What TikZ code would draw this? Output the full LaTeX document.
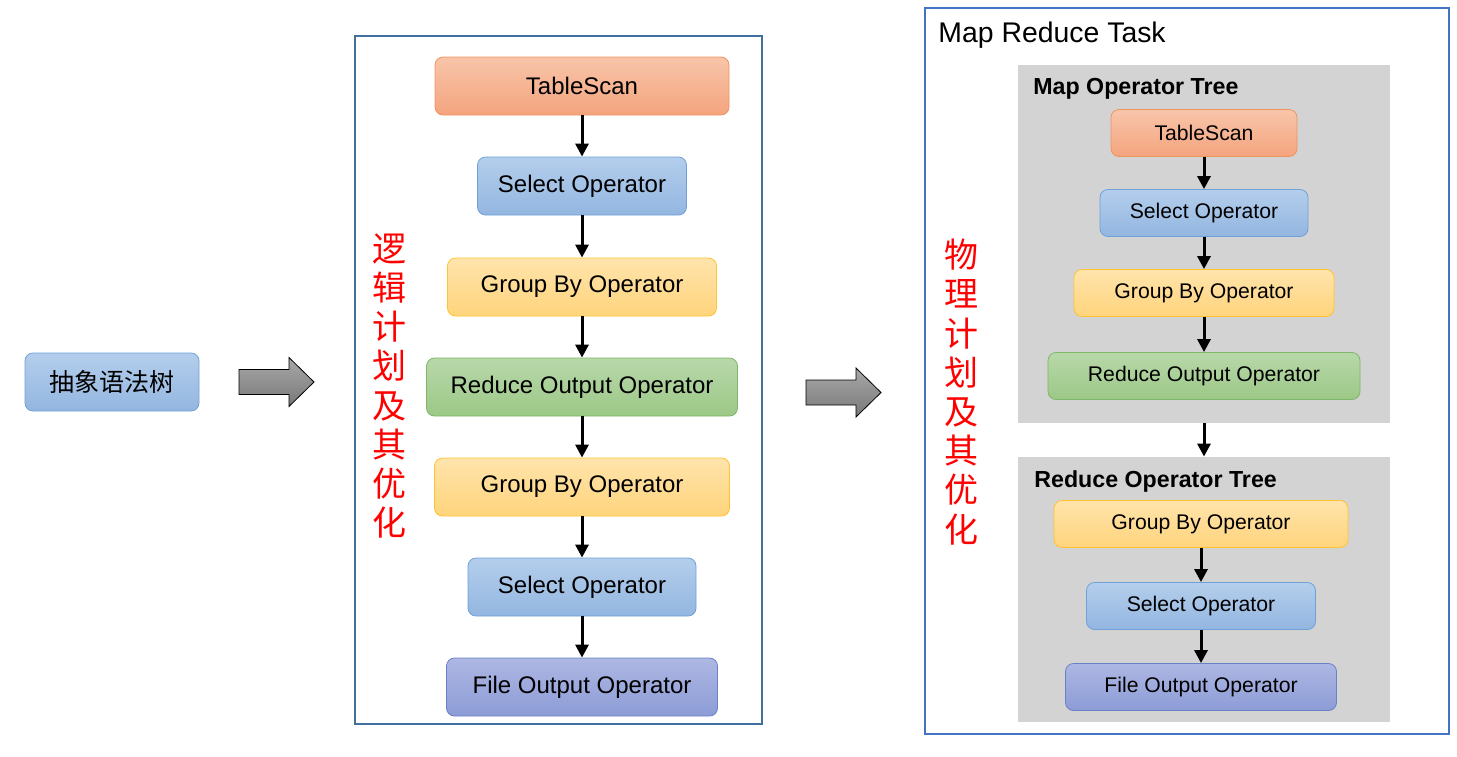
\documentclass[tikz,border=0pt]{standalone}
\usepackage{fontspec}
\setmainfont{Liberation Sans}
\newfontfamily\cjk{Noto Sans CJK SC}
\usetikzlibrary{positioning, arrows.meta}

\definecolor{scantop}{HTML}{F8C5AA}
\definecolor{scanbot}{HTML}{F4A47E}
\definecolor{scanline}{HTML}{EE9460}
\definecolor{seltop}{HTML}{B4CEEC}
\definecolor{selbot}{HTML}{93B6E0}
\definecolor{selline}{HTML}{6FA0D8}
\definecolor{grptop}{HTML}{FFE4AC}
\definecolor{grpbot}{HTML}{FFD47C}
\definecolor{grpline}{HTML}{FFC230}
\definecolor{rstop}{HTML}{B8D8AA}
\definecolor{rsbot}{HTML}{9CC887}
\definecolor{rsline}{HTML}{7FB66A}
\definecolor{fotop}{HTML}{AEB7E3}
\definecolor{fobot}{HTML}{8C9CD6}
\definecolor{foline}{HTML}{6A80C8}
\definecolor{leftframe}{HTML}{41719C}
\definecolor{rightframe}{HTML}{4472C4}
\definecolor{treegray}{HTML}{D3D3D3}
\definecolor{arrtop}{HTML}{A8A8A8}
\definecolor{arrbot}{HTML}{787878}

\newcommand{\blockarrow}[2]{\draw[bigarrow] (#1,#2-12.5) -- ++(50,0) -- ++(0,-12) -- ++(25,24.5) -- ++(-25,24.5) -- ++(0,-12) -- ++(-50,0) -- cycle;}

\begin{document}
\begin{tikzpicture}[x=0.5pt, y=-0.5pt,
	op/.style = {draw, rounded corners=4pt, inner sep=0pt, minimum height=29pt, font=\fontsize{12}{14}\selectfont},
	sop/.style = {op, minimum height=23.5pt, font=\fontsize{10.6}{12}\selectfont},
	scan/.style = {draw=scanline, top color=scantop, bottom color=scanbot},
	sel/.style = {draw=selline, top color=seltop, bottom color=selbot},
	grp/.style = {draw=grpline, top color=grptop, bottom color=grpbot},
	rs/.style = {draw=rsline, top color=rstop, bottom color=rsbot},
	fo/.style = {draw=foline, top color=fotop, bottom color=fobot},
	frame/.style = {draw, line width=1pt, inner sep=0pt},
	treebox/.style = {fill=treegray, inner sep=0pt, minimum width=186pt},
	title/.style = {anchor=base west, inner sep=0pt},
	vtext/.style = {text=red, align=center, font=\cjk\fontsize{17}{19.6}\selectfont},
	flow/.style = {-{Triangle[length=6.5pt, width=6.5pt]}, line width=1.5pt},
	bigarrow/.style = {draw=black, line width=0.4pt, top color=arrtop, bottom color=arrbot}
	]
	\useasboundingbox (0,0) rectangle (1457,756);

	\node[frame, draw=leftframe, minimum width=203.5pt, minimum height=344pt] (lframe) at (558.5,380) {};
	\node[frame, draw=rightframe, minimum width=262pt, minimum height=363pt] (rframe) at (1187,371) {};
	\node[treebox, minimum height=179pt] (maptree) at (1204,244) {};
	\node[treebox, minimum height=132.5pt] (redtree) at (1204,589.5) {};

	\node[op, sel, minimum width=87pt, font=\cjk\fontsize{12.5}{14}\selectfont] (ast) at (112,382) {抽象语法树};

	\node[op, scan, minimum width=147pt] (l1) at (582,86) {TableScan};
	\node[op, sel, minimum width=104.5pt] (l2) at (582,186) {Select Operator};
	\node[op, grp, minimum width=134.5pt] (l3) at (582,287) {Group By Operator};
	\node[op, rs, minimum width=155.5pt] (l4) at (582,387) {Reduce Output Operator};
	\node[op, grp, minimum width=147.5pt] (l5) at (582,487) {Group By Operator};
	\node[op, sel, minimum width=114pt] (l6) at (582,587) {Select Operator};
	\node[op, fo, minimum width=135.5pt] (l7) at (582,687) {File Output Operator};

	\node[vtext] (logic) at (389,386) {逻\\辑\\计\\划\\及\\其\\优\\化};
	\node[vtext] (phys) at (961,392) {物\\理\\计\\划\\及\\其\\优\\化};

	\node[title, font=\fontsize{14.2}{16}\selectfont] (mrtask) at (938,42) {Map Reduce Task};
	\node[title, font=\fontsize{11.6}{14}\selectfont\bfseries] (maptitle) at (1033,94) {Map Operator Tree};
	\node[title, font=\fontsize{11.6}{14}\selectfont\bfseries] (redtitle) at (1034,487) {Reduce Operator Tree};

	\node[sop, scan, minimum width=93pt] (m1) at (1204,133) {TableScan};
	\node[sop, sel, minimum width=104pt] (m2) at (1204,213) {Select Operator};
	\node[sop, grp, minimum width=130pt] (m3) at (1204,293) {Group By Operator};
	\node[sop, rs, minimum width=156pt] (m4) at (1204,376) {Reduce Output Operator};

	\node[sop, grp, minimum width=147pt] (r1) at (1201,524) {Group By Operator};
	\node[sop, sel, minimum width=114.5pt] (r2) at (1201,606) {Select Operator};
	\node[sop, fo, minimum width=135.5pt] (r3) at (1201,687) {File Output Operator};

	\blockarrow{239}{382}
	\blockarrow{806}{392.5}

	\draw[flow]
	(l1) edge (l2)
	(l2) edge (l3)
	(l3) edge (l4)
	(l4) edge (l5)
	(l5) edge (l6)
	(l6) edge (l7)

	(m1) edge (m2)
	(m2) edge (m3)
	(m3) edge (m4)

	(maptree) edge (redtree)

	(r1) edge (r2)
	(r2) edge (r3);
\end{tikzpicture}
\end{document}
